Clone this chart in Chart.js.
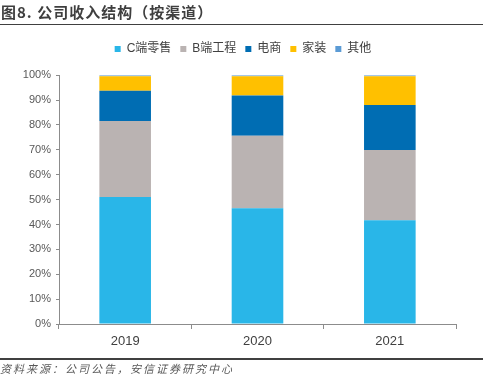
<!DOCTYPE html>
<html><head><meta charset="utf-8">
<script src="https://cdn.jsdelivr.net/npm/chart.js@4"></script>
<style>
html,body{margin:0;padding:0;background:#fff;}
body{width:494px;height:379px;position:relative;overflow:hidden;font-family:"Noto Sans CJK SC",sans-serif;}
#title{position:absolute;left:1px;top:2px;font-size:15px;font-weight:bold;color:#3f3f3f;letter-spacing:1px;line-height:20px;white-space:nowrap;}
#tline{position:absolute;left:0;top:24px;width:483px;height:1px;background:#404040;}
#bline{position:absolute;left:0;top:358px;width:483px;height:1.5px;background:#404040;}
#src{position:absolute;left:0;top:360px;font-size:11px;font-style:italic;color:#595959;letter-spacing:2px;line-height:16px;white-space:nowrap;}
#wrap{position:absolute;left:0;top:0;width:494px;height:379px;}
</style></head>
<body>
<div id="wrap"><canvas id="c"></canvas></div>
<div id="title">图8. 公司收入结构（按渠道）</div>
<div id="tline"></div>
<div id="bline"></div>
<div id="src">资料来源：公司公告，安信证券研究中心</div>
<script>
const categories = ['2019', '2020', '2021'];
const seriesNames = ['C端零售', 'B端工程', '电商', '家装', '其他'];
const cRetail = [51.0, 46.5, 41.7];
const bProject = [30.6, 29.2, 28.2];
const eCommerce = [12.1, 16.1, 18.1];
const homeDecor = [5.9, 7.8, 11.6];
const others = [0.4, 0.4, 0.4];
const yTicks = [0, 10, 20, 30, 40, 50, 60, 70, 80, 90, 100];

const colors = ['#29B6E8', '#BAB3B2', '#006DB3', '#FFC000', '#5B9BD5'];
const values = [cRetail, bProject, eCommerce, homeDecor, others];

const datasets = seriesNames.map((n, i) => ({
  label: n,
  data: values[i],
  backgroundColor: colors[i],
  borderWidth: 0,
  barPercentage: 0.39,
  categoryPercentage: 1.0
}));

new Chart(document.getElementById('c'), {
  type: 'bar',
  data: { labels: categories, datasets },
  options: {
    responsive: true,
    maintainAspectRatio: false,
    animation: false,
    layout: { padding: { left: 10, right: 18, top: 34, bottom: 31 } },
    plugins: {
      legend: {
        position: 'top',
        labels: {
          boxWidth: 6, boxHeight: 6, padding: 9,
          color: '#404040',
          font: { family: '"Liberation Sans", "Noto Sans CJK SC"', size: 12 }
        }
      },
      subtitle: {
        display: true, text: '', weight: 500,
        font: { size: 1 }, padding: { top: 0, bottom: 9 }
      },
      tooltip: { enabled: false }
    },
    scales: {
      x: {
        stacked: true,
        grid: { display: true, drawOnChartArea: false, offset: true, tickLength: 5, color: '#8c8c8c' },
        border: { color: '#8c8c8c', width: 1 },
        ticks: { color: '#404040', font: { family: '"Liberation Sans"', size: 13 }, padding: 5 },
        afterFit: s => { s.height = 24; }
      },
      y: {
        stacked: true,
        min: 0, max: 100,
        afterBuildTicks: s => { s.ticks = yTicks.map(v => ({ value: v })); },
        grid: { display: true, drawOnChartArea: false, tickLength: 3, color: '#8c8c8c' },
        border: { color: '#8c8c8c', width: 1 },
        ticks: { color: '#595959', font: { family: '"Liberation Sans"', size: 11 }, padding: 5, callback: v => v + '%' },
        afterFit: s => { s.width = 49; }
      },
      yRight: {
        position: 'right',
        min: 0, max: 100,
        grid: { display: false },
        border: { display: false },
        ticks: { display: false },
        afterFit: s => { s.width = 20; }
      }
    }
  }
});
</script>
</body></html>
